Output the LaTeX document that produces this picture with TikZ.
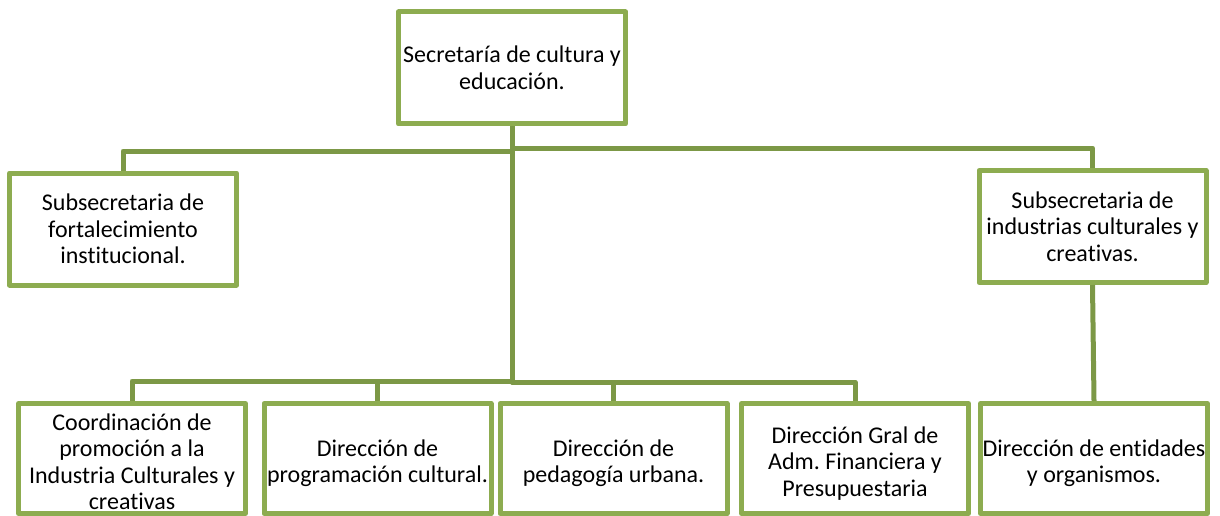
\documentclass[tikz,border=0pt]{standalone}
\usepackage{fontspec}
\setmainfont{Carlito}[Ligatures=NoCommon]
\frenchspacing
\definecolor{boxgreen}{RGB}{141,172,80}
\definecolor{linegreen}{RGB}{124,152,70}
\begin{document}
\begin{tikzpicture}[x=1pt,y=-1pt,
  orgbox/.style={draw=boxgreen, line width=5pt, line join=round, fill=white,
    minimum width=227pt, minimum height=112pt, inner sep=0pt, align=center,
    font=\fontsize{24pt}{26.5pt}\selectfont},
  lowbox/.style={orgbox, minimum height=110pt},
  lowtext/.style={inner sep=0pt, align=center, font=\fontsize{24pt}{26.5pt}\selectfont},
  conn/.style={draw=linegreen, line width=5pt, line join=round}]
\useasboundingbox (0,0) rectangle (1220,516);
\node[orgbox] (top) at (512,68) {Secretaría de cultura y\\educación.};
\node[orgbox] (subL) at (123,229) {Subsecretaria de\\fortalecimiento\\institucional.};
\node[orgbox] (subR) at (1092.5,226.5) {Subsecretaria de\\industrias culturales y\\creativas.};
\node[lowbox] (b1) at (132,458.5) {};
\node[lowbox] (b2) at (377.5,458.5) {};
\node[lowbox] (b3) at (613.5,458.5) {};
\node[lowbox] (b4) at (855,458.5) {};
\node[lowbox] (b5) at (1094,458.5) {};
\node[lowtext] (t1) at ([yshift=-3.5pt]b1.center) {Coordinación de\\promoción a la\\Industria Culturales y\\creativas};
\node[lowtext] (t2) at ([yshift=-4.5pt]b2.center) {Dirección de\\programación cultural.};
\node[lowtext] (t3) at ([yshift=-4.5pt]b3.center) {Dirección de\\pedagogía urbana.};
\node[lowtext] (t4) at ([yshift=-5pt]b4.center) {Dirección Gral de\\Adm. Financiera y\\Presupuestaria};
\node[lowtext] (t5) at ([yshift=-4.5pt]b5.center) {Dirección de entidades\\y organismos.};
\path[conn] (top.south) -- ++(0,24.5) -| (subL.north);
\path[conn] (top.south) -- ++(0,21.5) -| (subR.north);
\path[conn] (top.south) -- ++(0,254.5) -| (b1.north);
\path[conn] (top.south) -- ++(0,254.5) -| (b2.north);
\path[conn] (top.south) -- ++(0,255.5) -| (b3.north);
\path[conn] (top.south) -- ++(0,255.5) -| (b4.north);
\path[conn] (subR.south) -- (b5.north);
\end{tikzpicture}
\end{document}
